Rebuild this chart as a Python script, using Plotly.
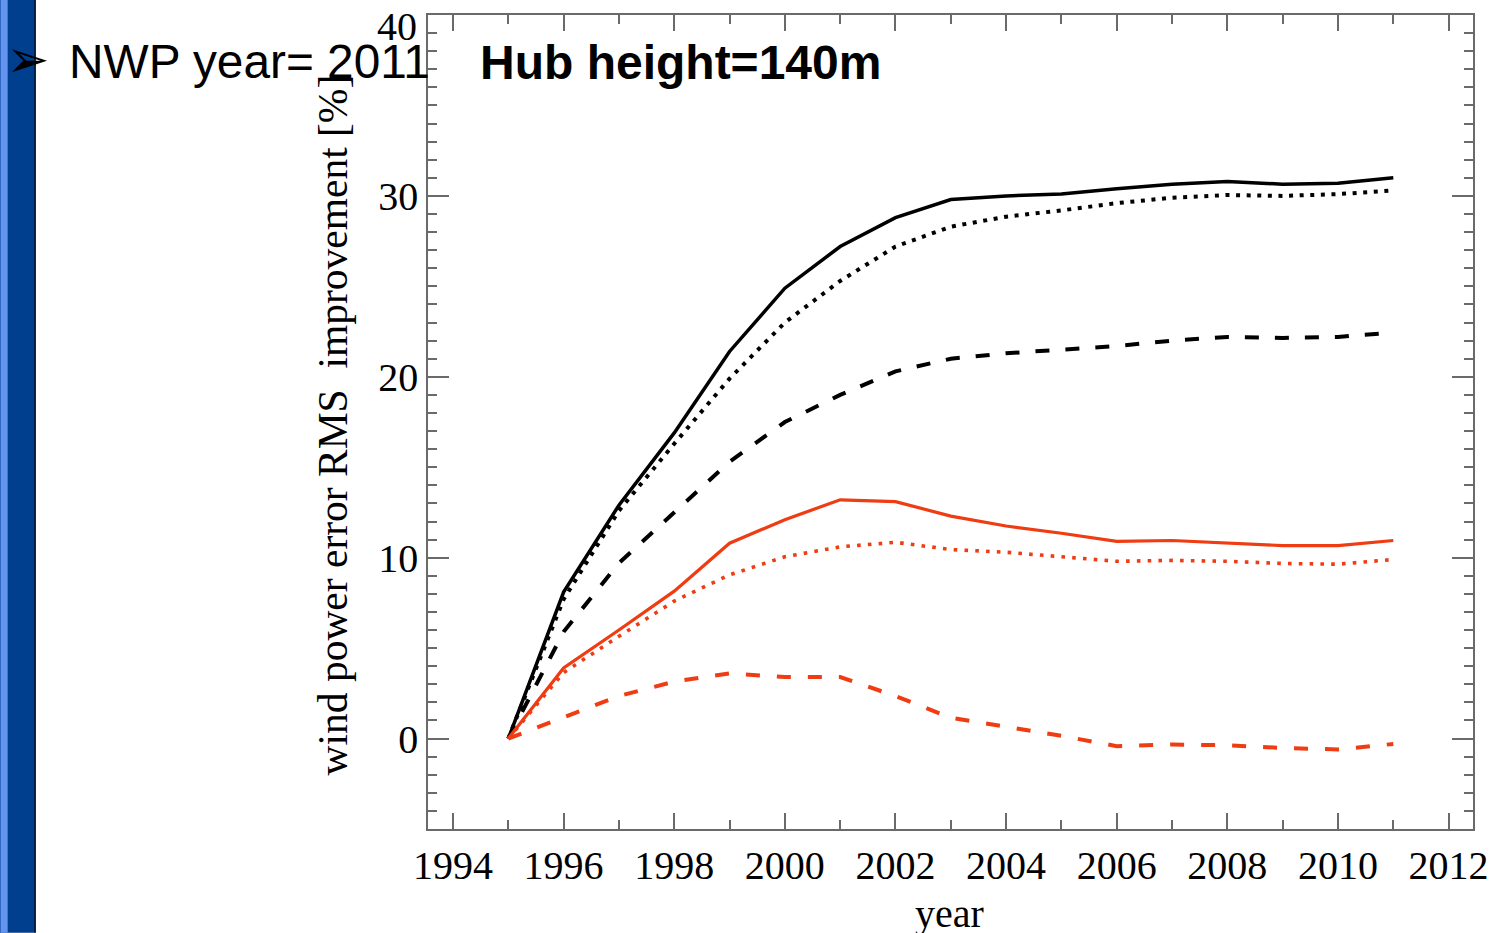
import plotly.graph_objects as go

# Forecast years
years = list(range(1995, 2012))

# RMS improvement of wind power error [%]
black_solid = [0, 8.1, 12.9, 16.9, 21.4, 24.9, 27.2, 28.8, 29.8, 30.0, 30.1, 30.4, 30.65, 30.8, 30.65, 30.7, 31.0]
black_dot = [0, 7.7, 12.6, 16.3, 19.9, 23.0, 25.3, 27.2, 28.3, 28.85, 29.2, 29.6, 29.9, 30.05, 30.0, 30.1, 30.3]
black_dash = [0, 5.9, 9.7, 12.5, 15.3, 17.5, 19.0, 20.3, 21.0, 21.3, 21.5, 21.7, 22.0, 22.2, 22.15, 22.2, 22.45]
red_solid = [0, 3.9, 6.0, 8.15, 10.8, 12.1, 13.2, 13.1, 12.3, 11.75, 11.35, 10.9, 10.95, 10.8, 10.67, 10.67, 10.95]
red_dot = [0, 3.65, 5.65, 7.6, 9.05, 10.05, 10.6, 10.85, 10.45, 10.3, 10.05, 9.8, 9.85, 9.8, 9.68, 9.64, 9.9]
red_dash = [0, 1.2, 2.35, 3.15, 3.6, 3.4, 3.4, 2.35, 1.15, 0.65, 0.15, -0.42, -0.33, -0.37, -0.52, -0.6, -0.3]

x_ticks = list(range(1994, 2013, 2))
y_ticks = [0, 10, 20, 30, 40]
# the top label sits inside the page edge, so it is placed separately below
y_ticktext = ["0", "10", "20", "30", ""]
y_top_label = "40"

BLACK = "#000000"
RED = "#ef3c12"
FRAME = "#6a6a6a"
SERIF = "Liberation Serif, Times New Roman, serif"
SANS = "Liberation Sans, Arial, sans-serif"

W, H = 1493, 933
L, R, T, B = 428.3, 1472.7, 15.0, 829.3


def px(x):
    return (x - L) / (R - L)


def py(y):
    return (B - y) / (B - T)


fig = go.Figure()

series = [
    (black_solid, BLACK, 3.5, "solid"),
    (black_dot, BLACK, 4, "4px,6.6px"),
    (black_dash, BLACK, 4, "14px,16px"),
    (red_solid, RED, 3.2, "solid"),
    (red_dot, RED, 3.6, "3.6px,7.2px"),
    (red_dash, RED, 4, "14px,17px"),
]
for vals, color, width, dash in series:
    fig.add_trace(go.Scatter(
        x=years, y=vals, mode="lines",
        line=dict(color=color, width=width, dash=dash),
        showlegend=False, hoverinfo="skip",
    ))

axis_common = dict(
    showgrid=False, zeroline=False, automargin=False,
    showline=True, linecolor=FRAME, linewidth=1.5,
    mirror="ticks", ticks="inside", tickcolor=FRAME, tickwidth=1.5,
    ticklabeloverflow="allow",
    tickfont=dict(family=SERIF, size=40, color="#000000"),
)

fig.update_xaxes(
    range=[1993.548, 2012.441],
    tickmode="array", tickvals=x_ticks, ticklen=16,
    minor=dict(ticks="inside", dtick=1, tick0=1995, ticklen=9,
               tickcolor=FRAME, tickwidth=1.5),
    **axis_common,
)
fig.update_yaxes(
    range=[-5, 40.002],
    tickmode="array", tickvals=y_ticks, ticktext=y_ticktext, ticklen=21,
    minor=dict(ticks="inside", dtick=1, tick0=0, ticklen=9.5,
               tickcolor=FRAME, tickwidth=1.5),
    **axis_common,
)

# Slide side bar
shapes = [
    dict(type="rect", xref="paper", yref="paper",
         x0=px(0), x1=px(36), y0=py(0), y1=py(H),
         fillcolor="#003e8e", line=dict(width=0), layer="above"),
    dict(type="rect", xref="paper", yref="paper",
         x0=px(0), x1=px(1.2), y0=py(0), y1=py(H),
         fillcolor="#2a5cbf", line=dict(width=0), layer="above"),
    dict(type="rect", xref="paper", yref="paper",
         x0=px(1.2), x1=px(8.2), y0=py(0), y1=py(H),
         fillcolor="#6395ee", line=dict(width=0), layer="above"),
    dict(type="rect", xref="paper", yref="paper",
         x0=px(35), x1=px(36.3), y0=py(0), y1=py(H),
         fillcolor="#000000", line=dict(width=0), layer="above"),
]

annotations = [
    dict(text=y_top_label, x=px(419.5), y=y_ticks[-1], xref="paper", yref="y",
         xanchor="right", yanchor="middle", yshift=-11.5, showarrow=False,
         font=dict(family=SERIF, size=40, color="#000000")),
    dict(text="➢", x=px(29), y=py(59), xref="paper", yref="paper",
         xanchor="center", yanchor="middle", showarrow=False,
         font=dict(family="DejaVu Sans", size=52, color="#000000")),
    dict(text="NWP year= 2011", x=px(68), y=py(62), xref="paper", yref="paper",
         xanchor="left", yanchor="middle", showarrow=False,
         font=dict(family=SANS, size=47.8, color="#000000")),
    dict(text="<b>Hub height=140m</b>", x=px(478), y=py(63), xref="paper", yref="paper",
         xanchor="left", yanchor="middle", showarrow=False,
         font=dict(family=SANS, size=48, color="#000000")),
    dict(text="wind power error RMS\u00a0 improvement [%]", x=px(333), y=py(425),
         xref="paper", yref="paper", textangle=-90,
         xanchor="center", yanchor="middle", showarrow=False,
         font=dict(family=SERIF, size=41.5, color="#000000")),
    dict(text="year", x=px(950), y=py(914), xref="paper", yref="paper",
         xanchor="center", yanchor="middle", showarrow=False,
         font=dict(family=SERIF, size=40, color="#000000")),
]

fig.update_layout(
    template="none",
    width=W, height=H,
    margin=dict(l=L, r=W - R, t=T, b=H - B, pad=0, autoexpand=False),
    paper_bgcolor="#ffffff", plot_bgcolor="#ffffff",
    shapes=shapes, annotations=annotations,
    showlegend=False,
)

fig.write_html("out.html", config={"displayModeBar": False})
